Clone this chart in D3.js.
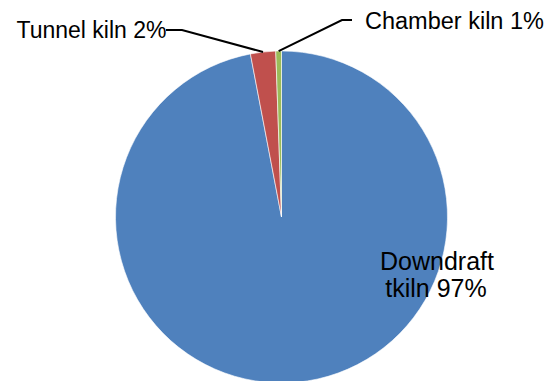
<!DOCTYPE html>
<html>
<head>
<meta charset="utf-8">
<script src="https://cdn.jsdelivr.net/npm/d3@7"></script>
<style>
  html, body { margin: 0; padding: 0; background: #fff; }
  svg { display: block; }
  text { font-family: "Liberation Sans", Arial, sans-serif; fill: #000; }
</style>
</head>
<body>
<svg id="chart" width="553" height="381"></svg>
<script>
// Kiln types and their share of the total
const categories = ["Downdraft tkiln", "Tunnel kiln", "Chamber kiln"];
const shares = [97.0, 2.45, 0.55];
const colors = ["#4F81BD", "#C0504D", "#9BBB59"];

const W = 553, H = 381;
const cx = 281.5, cy = 217, radius = 166;

const svg = d3.select("#chart");
const g = svg.append("g").attr("transform", `translate(${cx},${cy})`);

const pie = d3.pie().sort(null).value(d => d.value);
const arcs = pie(categories.map((c, i) => ({ name: c, value: shares[i], color: colors[i] })));
const arc = d3.arc().innerRadius(0).outerRadius(radius);

g.selectAll("path.slice")
  .data(arcs)
  .join("path")
  .attr("class", "slice")
  .attr("d", arc)
  .attr("fill", d => d.data.color)
  .attr("stroke", "#fff")
  .attr("stroke-width", 0.6);

const total = d3.sum(shares);
const pct = v => Math.round(v / total * 100) + "%";

// Point on the rim at the middle of a slice
const rimPoint = (a, r) => {
  const m = (a.startAngle + a.endAngle) / 2;
  return [r * Math.sin(m), -r * Math.cos(m)];
};

// Downdraft: label inside the slice, two lines
const big = arcs[0];
const bigWords = big.data.name.split(" ");
const bigLabel = svg.append("text")
  .attr("text-anchor", "middle")
  .attr("font-size", 25);
bigLabel.append("tspan").attr("x", 437).attr("y", 269.5).text(bigWords[0]);
bigLabel.append("tspan").attr("x", 436).attr("y", 297).text(bigWords.slice(1).join(" ") + " " + pct(big.value));

// Tunnel kiln: label on the left with an elbow leader
const tun = arcs[1];
const tunRim = rimPoint(tun, radius);
svg.append("path")
  .attr("d", d3.line()([[166, 30], [182, 30], [cx + tunRim[0], cy + tunRim[1]]]))
  .attr("fill", "none")
  .attr("stroke", "#000")
  .attr("stroke-width", 2);
svg.append("text")
  .attr("x", 16.5).attr("y", 37.5)
  .attr("font-size", 23)
  .text(tun.data.name + " " + pct(tun.value));

// Chamber kiln: label on the right with an elbow leader
const ch = arcs[2];
const chRim = rimPoint(ch, radius);
svg.append("path")
  .attr("d", d3.line()([[cx + chRim[0], cy + chRim[1]], [342, 20], [352, 20]]))
  .attr("fill", "none")
  .attr("stroke", "#000")
  .attr("stroke-width", 2);
svg.append("text")
  .attr("x", 365).attr("y", 28.5)
  .attr("font-size", 23.5)
  .text(ch.data.name + " " + pct(ch.value));
</script>
</body>
</html>
